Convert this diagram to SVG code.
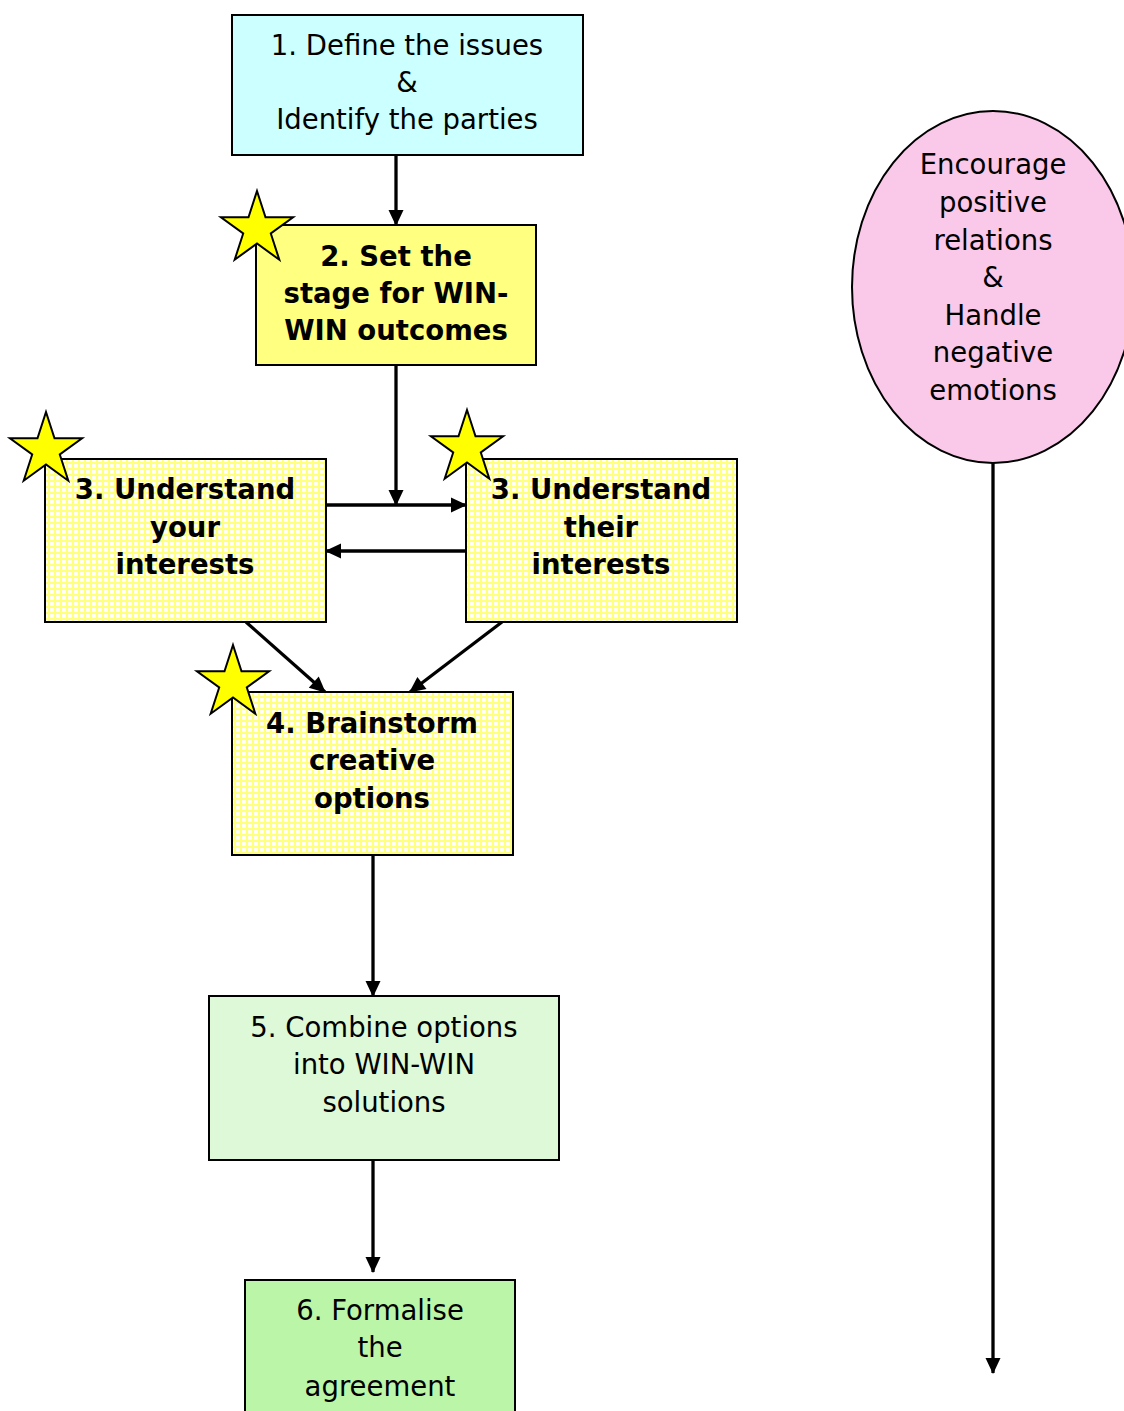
<svg xmlns="http://www.w3.org/2000/svg" width="1124" height="1411" viewBox="0 0 1124 1411">
<defs>
<style>
.box{stroke:#000;stroke-width:2}
.t{font-family:"DejaVu Sans","Liberation Sans",sans-serif;font-size:27.5px;text-anchor:middle;fill:#000}
.b{font-weight:bold}
.c{stroke:#000;stroke-width:3.3;fill:none}
.star{fill:#FFFF00;stroke:#000;stroke-width:2;stroke-linejoin:miter}
</style>
<pattern id="grid" width="6" height="6" patternUnits="userSpaceOnUse">
<rect width="6" height="6" fill="#FFFF80"/>
<rect x="2" y="2" width="4" height="4" fill="#FFFFF8"/>
</pattern>
<marker id="ah" viewBox="0 0 16 16" markerUnits="userSpaceOnUse" markerWidth="16" markerHeight="16" refX="15" refY="8" orient="auto" overflow="visible">
<path d="M0 0.5L16 8L0 15.5Z" fill="#000"/>
</marker>
<polygon id="st" points="0,-38 8.5,-11.7 36.1,-11.7 13.8,4.5 22.3,30.7 0,14.5 -22.3,30.7 -13.8,4.5 -36.1,-11.7 -8.5,-11.7"/>
</defs>
<rect width="1124" height="1411" fill="#fff"/>

<g id="connectors">
<line class="c" x1="396" y1="155" x2="396" y2="225" marker-end="url(#ah)"/>
<line class="c" x1="396" y1="365" x2="396" y2="505" marker-end="url(#ah)"/>
<line class="c" x1="326" y1="505" x2="466" y2="505" marker-end="url(#ah)"/>
<line class="c" x1="466" y1="551" x2="326" y2="551" marker-end="url(#ah)"/>
<line class="c" x1="246" y1="622" x2="325" y2="692" marker-end="url(#ah)"/>
<line class="c" x1="502" y1="622" x2="410" y2="692" marker-end="url(#ah)"/>
<line class="c" x1="373" y1="855" x2="373" y2="996" marker-end="url(#ah)"/>
<line class="c" x1="373" y1="1160" x2="373" y2="1272" marker-end="url(#ah)"/>
<line class="c" x1="993" y1="462" x2="993" y2="1373" marker-end="url(#ah)"/>
</g>

<g id="node1">
<rect class="box" x="232" y="15" width="351" height="140" fill="#CCFFFF"/>
<text class="t" x="407" y="55">1. Define the issues</text>
<text class="t" x="407" y="92">&amp;</text>
<text class="t" x="407" y="129">Identify the parties</text>
</g>

<g id="node2">
<rect class="box" x="256" y="225" width="280" height="140" fill="#FFFF80"/>
<text class="t b" x="396" y="266">2. Set the</text>
<text class="t b" x="396" y="303">stage for WIN-</text>
<text class="t b" x="396" y="340">WIN outcomes</text>
<use href="#st" class="star" x="257" y="229"/>
</g>

<g id="node3a">
<rect class="box" x="45" y="459" width="281" height="163" fill="url(#grid)"/>
<text class="t b" x="185" y="499">3. Understand</text>
<text class="t b" x="185" y="537">your</text>
<text class="t b" x="185" y="574">interests</text>
<use href="#st" class="star" x="46" y="450"/>
</g>

<g id="node3b">
<rect class="box" x="466" y="459" width="271" height="163" fill="url(#grid)"/>
<text class="t b" x="601" y="499">3. Understand</text>
<text class="t b" x="601" y="537">their</text>
<text class="t b" x="601" y="574">interests</text>
<use href="#st" class="star" x="467" y="448"/>
</g>

<g id="node4">
<rect class="box" x="232" y="692" width="281" height="163" fill="url(#grid)"/>
<text class="t b" x="372" y="733">4. Brainstorm</text>
<text class="t b" x="372" y="770">creative</text>
<text class="t b" x="372" y="808">options</text>
<use href="#st" class="star" x="233" y="683"/>
</g>

<g id="node5">
<rect class="box" x="209" y="996" width="350" height="164" fill="#DDF9D7"/>
<text class="t" x="384" y="1037">5. Combine options</text>
<text class="t" x="384" y="1074">into WIN-WIN</text>
<text class="t" x="384" y="1112">solutions</text>
</g>

<g id="node6">
<rect class="box" x="245" y="1280" width="270" height="140" fill="#BBF5A8"/>
<text class="t" x="380" y="1320">6. Formalise</text>
<text class="t" x="380" y="1357">the</text>
<text class="t" x="380" y="1396">agreement</text>
</g>

<g id="node7">
<ellipse class="box" cx="993" cy="287" rx="141" ry="176" fill="#FAC8E8"/>
<text class="t" x="993" y="174">Encourage</text>
<text class="t" x="993" y="212">positive</text>
<text class="t" x="993" y="250">relations</text>
<text class="t" x="993" y="287">&amp;</text>
<text class="t" x="993" y="325">Handle</text>
<text class="t" x="993" y="362">negative</text>
<text class="t" x="993" y="400">emotions</text>
</g>
</svg>
